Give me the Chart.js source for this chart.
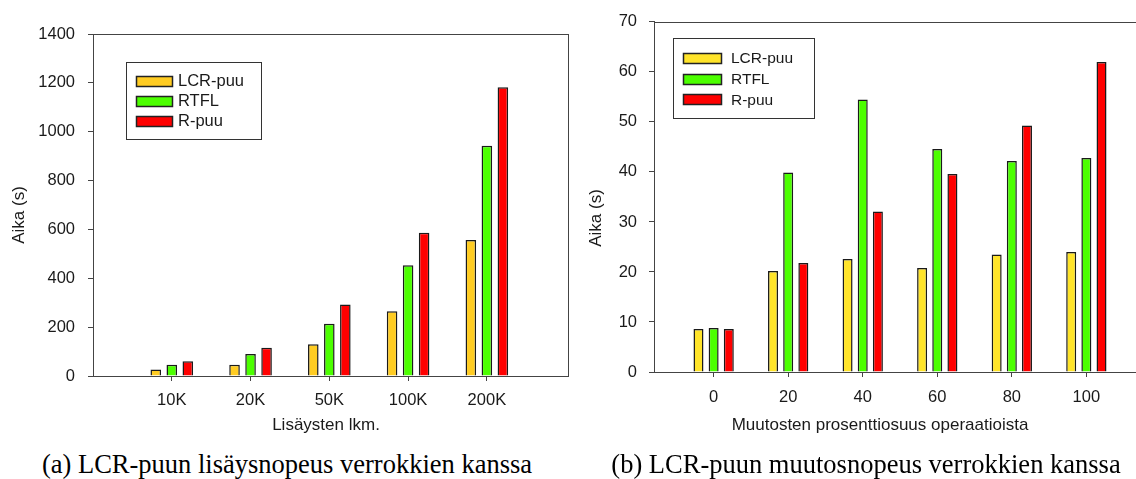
<!DOCTYPE html>
<html><head><meta charset="utf-8">
<script src="https://cdn.jsdelivr.net/npm/chart.js@4.4.1/dist/chart.umd.min.js"></script>
<style>
html,body{margin:0;padding:0;background:#fff;width:1136px;height:479px;overflow:hidden;position:relative}
#wa{position:absolute;left:0;top:0;width:575px;height:440px}
#wb{position:absolute;left:570px;top:0;width:580px;height:440px}
.cap{position:absolute;top:451px;font-family:"Liberation Serif","Times New Roman",serif;font-size:26.5px;line-height:1;white-space:nowrap;color:#000;transform:translateX(-50%)}
</style></head><body>
<div id="wa"><canvas id="ca" width="575" height="440"></canvas></div>
<div id="wb"><canvas id="cb" width="580" height="440"></canvas></div>
<div class="cap" style="left:287px">(a) LCR-puun lisäysnopeus verrokkien kanssa</div>
<div class="cap" style="left:866px">(b) LCR-puun muutosnopeus verrokkien kanssa</div>
<script>
// ---- data ----
const seriesNames = ['LCR-puu', 'RTFL', 'R-puu'];

const insertCategories = ['10K', '20K', '50K', '100K', '200K'];
const insertLCR  = [27, 46, 130, 265, 557];
const insertRTFL = [46, 90, 214, 453, 943];
const insertR    = [60, 116, 293, 586, 1182];

const modifyCategories = [0, 20, 40, 60, 80, 100];
const modifyLCR  = [8.6, 20.2, 22.6, 20.8, 23.5, 24.0];
const modifyRTFL = [8.8, 39.9, 54.5, 44.6, 42.2, 42.8];
const modifyR    = [8.6, 21.8, 32.1, 39.6, 49.3, 62.0];

// ---- styling ----
const SANS = '"Liberation Sans", Arial, Helvetica, sans-serif';
const AXIS = '#444';
const TXT = '#1a1a1a';

const decor = {
  id: 'decor',
  afterDraw(chart, args, o) {
    const ctx = chart.ctx, a = chart.chartArea;
    ctx.save();
    ctx.strokeStyle = AXIS; ctx.lineWidth = 1;
    ctx.strokeRect(Math.round(a.left) + 0.5, Math.round(a.top) + 0.5,
                   Math.round(a.right - a.left), Math.round(a.bottom - a.top));
    const L = o.legend;
    ctx.fillStyle = '#fff';
    ctx.fillRect(L.x, L.y, L.w, L.h);
    ctx.strokeStyle = '#333';
    ctx.strokeRect(L.x + 0.5, L.y + 0.5, L.w, L.h);
    chart.data.datasets.forEach((ds, i) => {
      const cy = L.row0 + i * L.gap;
      const top = Math.round(cy - L.sh / 2);
      ctx.fillStyle = ds.backgroundColor;
      ctx.fillRect(L.sx, top, L.sw, L.sh);
      ctx.strokeStyle = '#222';
      ctx.lineWidth = 1.5;
      ctx.strokeRect(L.sx + 0.5, top + 0.5, L.sw, L.sh);
      ctx.lineWidth = 1;
      ctx.fillStyle = TXT;
      ctx.font = L.font;
      ctx.textAlign = 'left'; ctx.textBaseline = 'middle';
      ctx.fillText(ds.label, L.tx, cy + 1);
    });
    // axis titles
    ctx.fillStyle = TXT;
    ctx.font = o.titleFont;
    ctx.textAlign = 'center'; ctx.textBaseline = 'middle';
    ctx.fillText(o.xTitle.text, o.xTitle.x, o.xTitle.y);
    ctx.save();
    ctx.translate(o.yTitle.x, o.yTitle.y);
    ctx.rotate(-Math.PI / 2);
    ctx.fillText(o.yTitle.text, 0, 0);
    ctx.restore();
    ctx.restore();
  }
};

function makeChart(canvasId, cfg) {
  const ds = (name, color, xs, ys) => ({
    label: name,
    data: xs.map((x, i) => ({ x: x, y: ys[i] })),
    backgroundColor: color,
    borderColor: '#1a1a1a',
    borderWidth: 1.5,
    categoryPercentage: 0.61,
    barPercentage: 0.66
  });
  const tickFont = { family: SANS, size: cfg.tickSize };
  return new Chart(document.getElementById(canvasId), {
    type: 'bar',
    data: {
      datasets: [
        ds(seriesNames[0], cfg.colors[0], cfg.xs, cfg.series[0]),
        ds(seriesNames[1], cfg.colors[1], cfg.xs, cfg.series[1]),
        ds(seriesNames[2], cfg.colors[2], cfg.xs, cfg.series[2])
      ]
    },
    options: {
      responsive: false,
      animation: false,
      layout: { padding: cfg.padding },
      plugins: {
        legend: { display: false },
        tooltip: { enabled: false },
        decor: cfg.decor
      },
      scales: {
        x: {
          type: 'linear',
          min: cfg.xMin, max: cfg.xMax,
          offset: false,
          grid: { offset: false, drawOnChartArea: false, drawTicks: true, tickLength: 5, color: AXIS },
          border: { color: AXIS },
          ticks: {
            font: tickFont, color: TXT, padding: cfg.xPad, maxRotation: 0, autoSkip: false,
            callback: cfg.xLabel
          },
          afterBuildTicks: s => { s.ticks = cfg.xs.map(v => ({ value: v })); },
          afterFit: s => { s.height = cfg.xHeight; }
        },
        y: {
          min: 0, max: cfg.yMax,
          grid: { drawOnChartArea: false, drawTicks: true, tickLength: 5, color: AXIS },
          border: { color: AXIS },
          ticks: { stepSize: cfg.yStep, font: tickFont, color: TXT, padding: cfg.yPad,
                   callback: v => String(v) },
          afterFit: s => { s.width = cfg.yWidth; }
        }
      }
    },
    plugins: [decor]
  });
}

// (a) insertion chart: categories at positions 1..5
const insertPos = insertCategories.map((_, i) => i + 1);
makeChart('ca', {
  xs: insertPos,
  xLabel: v => insertCategories[v - 1] ?? '',
  series: [insertLCR, insertRTFL, insertR],
  colors: ['#FFCC22', '#4CFF00', '#FF0000'],
  xMin: 0, xMax: 6.03,
  yMax: 1400, yStep: 200,
  tickSize: 16.5,
  padding: { left: 0, top: 34, right: 7, bottom: 0 },
  yWidth: 93, xHeight: 64, xPad: 10, yPad: 13,
  decor: {
    legend: { x: 126, y: 62, w: 135, h: 77, sx: 136, sw: 36, sh: 10, row0: 80.7, gap: 20, tx: 178,
              font: '16.5px ' + SANS },
    titleFont: '17px ' + SANS,
    xTitle: { text: 'Lisäysten lkm.', x: 326, y: 425 },
    yTitle: { text: 'Aika (s)', x: 19, y: 215 }
  }
});

// (b) modification chart
makeChart('cb', {
  xs: modifyCategories,
  xLabel: v => String(v),
  series: [modifyLCR, modifyRTFL, modifyR],
  colors: ['#FFE42A', '#4CFF00', '#FF0000'],
  xMin: -16, xMax: 116,
  yMax: 70, yStep: 10,
  tickSize: 16.5,
  padding: { left: 0, top: 19, right: 4, bottom: 0 },
  yWidth: 84, xHeight: 68, xPad: 11, yPad: 12,
  decor: {
    legend: { x: 103, y: 38, w: 141, h: 80, sx: 113, sw: 38, sh: 10, row0: 57.7, gap: 20.8, tx: 161,
              font: '15.5px ' + SANS },
    titleFont: '17px ' + SANS,
    xTitle: { text: 'Muutosten prosenttiosuus operaatioista', x: 310, y: 425 },
    yTitle: { text: 'Aika (s)', x: 26, y: 218 }
  }
});
</script>
</body></html>
